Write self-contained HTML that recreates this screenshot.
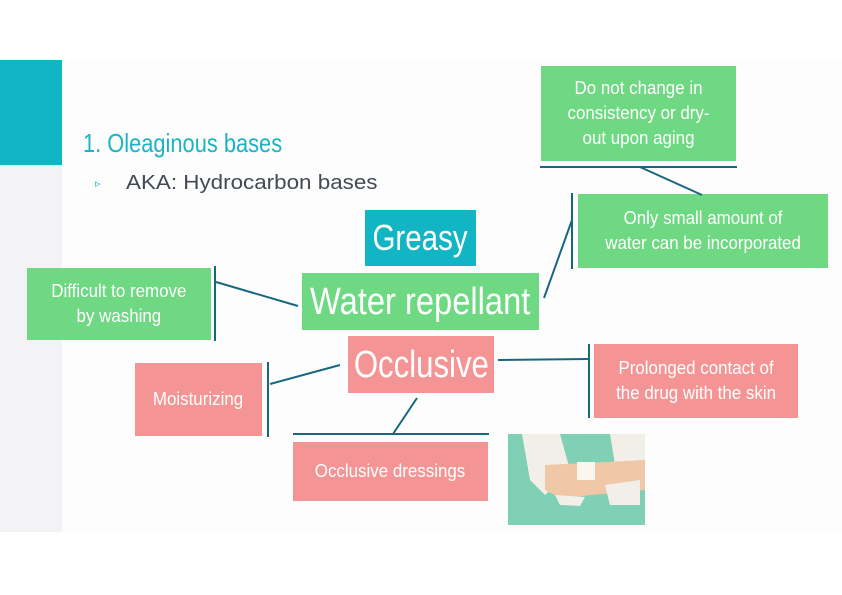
<!DOCTYPE html>
<html><head><meta charset="utf-8"><style>
body{margin:0;width:842px;height:595px;background:#fff;position:relative;overflow:hidden;font-family:"Liberation Sans",sans-serif}
.a{position:absolute}
.b{position:absolute;display:flex;align-items:center;justify-content:center;text-align:center;color:#fff;line-height:25px;white-space:nowrap}
.g{background:#6ed882}.p{background:#f59494}
.n span{display:inline-block;transform:scaleX(0.82);line-height:1}
.s span{display:inline-block;transform:scaleX(0.94)}
</style></head><body>
<div class="a" style="left:0;top:60px;width:842px;height:472px;background:#fdfdfe"></div>
<div class="a" style="left:0;top:60px;width:62px;height:472px;background:#f3f3f6"></div>
<div class="a" style="left:0;top:60px;width:62px;height:105px;background:#12b5c4"></div>
<div class="a" style="left:83px;top:128px;font-size:26px;color:#1bb5c2;white-space:nowrap;transform:scaleX(0.84);transform-origin:left">1. Oleaginous bases</div>
<div class="a" style="left:95px;top:177px;font-size:11px;color:#1bb5c2">▹</div>
<div class="a" style="left:126px;top:172px;font-size:20px;color:#434a54;white-space:nowrap;transform:scaleX(1.12);transform-origin:left">AKA: Hydrocarbon bases</div>

<div class="b n" style="left:365px;top:210px;width:111px;height:56px;background:#12b5c4;font-size:36px"><span>Greasy</span></div>
<div class="b n g" style="left:302px;top:273px;width:237px;height:57px;font-size:38px"><span style="transform:scaleX(0.86)">Water repellant</span></div>
<div class="b n p" style="left:348px;top:336px;width:146px;height:57px;font-size:38px"><span>Occlusive</span></div>

<div class="b g s" style="left:27px;top:268px;width:184px;height:72px;font-size:18px"><span>Difficult to remove<br>by washing</span></div>
<div class="b g s" style="left:541px;top:66px;width:195px;height:95px;font-size:18px"><span>Do not change in<br>consistency or dry-<br>out upon aging</span></div>
<div class="b g s" style="left:578px;top:194px;width:250px;height:74px;font-size:18px"><span>Only small amount of<br>water can be incorporated</span></div>
<div class="b p s" style="left:135px;top:363px;width:127px;height:73px;font-size:18px"><span>Moisturizing</span></div>
<div class="b p s" style="left:594px;top:344px;width:204px;height:74px;font-size:18px"><span>Prolonged contact of<br>the drug with the skin</span></div>
<div class="b p s" style="left:293px;top:442px;width:195px;height:59px;font-size:18px"><span>Occlusive dressings</span></div>

<svg class="a" style="left:0;top:0" width="842" height="595">
<g stroke="#17687e" stroke-width="2" fill="none">
<line x1="215" y1="266" x2="215" y2="341"/><line x1="216" y1="282" x2="298" y2="306"/>
<line x1="540" y1="167" x2="737" y2="167"/><line x1="640" y1="167" x2="702" y2="195"/>
<line x1="572" y1="193" x2="572" y2="269"/><line x1="544" y1="298" x2="572" y2="220"/>
<line x1="268" y1="362" x2="268" y2="437"/><line x1="270" y1="384" x2="340" y2="365"/>
<line x1="589" y1="344" x2="589" y2="418"/><line x1="498" y1="360" x2="589" y2="359"/>
<line x1="293" y1="434" x2="489" y2="434"/><line x1="417" y1="398" x2="393" y2="434"/>
</g>
<rect x="508" y="434" width="137" height="91" fill="#7fd0b4"/>
<path d="M522 434 L560 434 L570 470 L545 495 L530 480 Z" fill="#f2efe8"/>
<path d="M610 434 L645 434 L645 470 L615 465 Z" fill="#f2efe8"/>
<path d="M545 465 L645 460 L645 490 L560 498 L545 490 Z" fill="#f0c8a8"/>
<rect x="577" y="462" width="18" height="18" fill="#fbf6ee"/>
<path d="M605 485 L640 480 L640 505 L610 505 Z" fill="#f2efe8"/>
<path d="M555 495 L585 497 L580 506 L560 505 Z" fill="#f2efe8"/>
</svg>
</body></html>
